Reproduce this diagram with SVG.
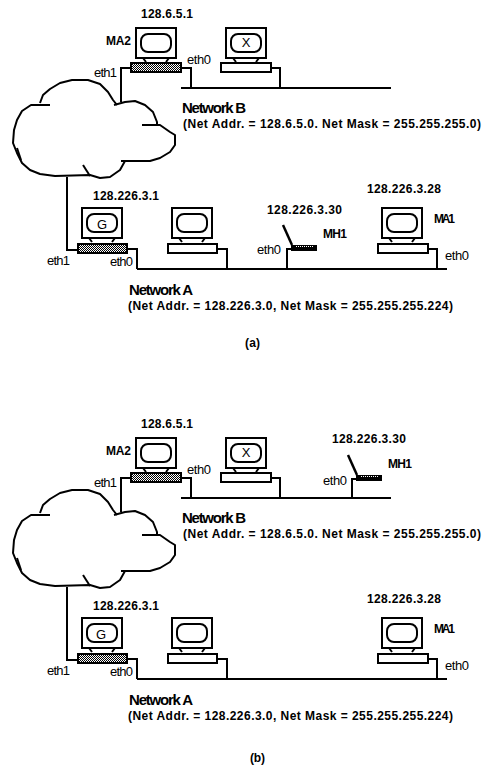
<svg xmlns="http://www.w3.org/2000/svg" width="496" height="775" viewBox="0 0 496 775">
<style>
.s{fill:none;stroke:#000;stroke-width:2;stroke-linejoin:round}
.c{fill:none;stroke:#000;stroke-width:2;shape-rendering:crispEdges}
.b{fill:#fff;stroke:#000;stroke-width:2}
.h{fill:url(#hatch);stroke:#000;stroke-width:2}
text{font-family:"Liberation Sans",Arial,sans-serif;fill:#000}
.l{font-size:12px;font-weight:bold}
.e{font-size:13px}
.n{font-size:15px;font-weight:bold}
.d{font-size:12px;font-weight:bold}
.g{font-size:13px}
</style>
<defs>
<pattern id="hatch" width="2" height="2" patternUnits="userSpaceOnUse">
<rect width="2" height="2" fill="#fff"/><rect width="1" height="1" fill="#000"/><rect x="1" y="1" width="1" height="1" fill="#000"/>
</pattern>
<g id="monitor">
<rect class="b" x="0" y="0" width="40" height="30"/>
<rect class="s" x="5" y="6" width="30" height="18" rx="7"/>
<path class="s" d="M7 30L10 34M33 30L30 34"/>
</g>
<g id="laptop">
<path d="M0 0L9 20" fill="none" stroke="#000" stroke-width="2.500"/>
<rect x="8" y="20" width="26" height="6" fill="#000"/>
<path d="M13 21.500H31" stroke="#fff" stroke-width="1" stroke-dasharray="1 1" fill="none" shape-rendering="crispEdges"/>
</g>
<g id="cloud-shape">
<path class="s" d="M50 105H31L22 111L17 120L14 130L13 143L17 153L22 163L30 170L40 174L55 176L90 175L100 178L110 177L120 170L125 161"/>
<path class="s" d="M17 148L21 160"/>
<path class="s" d="M40 103L43 95L50 89L60 83L72 80L88 80L100 84L108 92L113 100L117 105"/>
<path class="s" d="M114 105L125 102L135 101L145 105L153 112L157 122L157 125"/>
<path class="s" d="M142 125H160L170 132L175 135L175 145L170 152L160 158L150 161H121"/>
<path class="s" d="M90 176L83 165"/>
</g>
<path id="wires" class="c" d="M121 102V68H131M181 68H191V88M271 68H280V88M181 88H391M67 177V250H78M127 249H137V269M217 249H227V269M137 269H447M428 249H437V269"/>
</defs>
<rect width="496" height="775" fill="#fff"/>

<g id="connectors-a">
<use href="#wires"/>
<path class="c" d="M287 269V249H291"/>
</g>
<g id="cloud-a"><use href="#cloud-shape"/></g>
<g id="ma2-a">
<use href="#monitor" x="136" y="28"/>
<rect class="h" x="131" y="63" width="50" height="9"/>
<text class="l" x="141" y="18" textLength="52">128.6.5.1</text>
<text class="l" x="106" y="45" textLength="25">MA2</text>
<text class="e" x="187" y="64" textLength="24">eth0</text>
<text class="e" x="94" y="77" textLength="23">eth1</text>
</g>
<g id="x-a">
<use href="#monitor" x="226" y="28"/>
<rect class="b" x="221" y="63" width="50" height="9"/>
<text class="g" x="246" y="47" text-anchor="middle">X</text>
</g>
<g id="netb-a">
<text class="n" x="182" y="113" textLength="64">Network B</text>
<text class="d" x="183" y="128" textLength="298">(Net Addr. = 128.6.5.0. Net Mask = 255.255.255.0)</text>
</g>
<g id="g-a">
<use href="#monitor" x="82" y="208"/>
<rect class="h" x="78" y="244" width="49" height="9"/>
<text class="g" x="102" y="229" text-anchor="middle">G</text>
<text class="l" x="93" y="200" textLength="66">128.226.3.1</text>
<text class="e" x="47" y="265" textLength="23">eth1</text>
<text class="e" x="110" y="266" textLength="23">eth0</text>
</g>
<g id="host-a">
<use href="#monitor" x="172" y="208"/>
<rect class="b" x="168" y="244" width="49" height="9"/>
</g>
<g id="mh1-a">
<use href="#laptop" x="283" y="225"/>
<text class="l" x="267" y="214" textLength="75">128.226.3.30</text>
<text class="l" x="323" y="238" textLength="24">MH1</text>
<text class="e" x="257" y="254" textLength="24">eth0</text>
</g>
<g id="ma1-a">
<use href="#monitor" x="382" y="208"/>
<rect class="b" x="378" y="244" width="50" height="9"/>
<text class="l" x="367" y="193" textLength="74">128.226.3.28</text>
<text class="l" x="434" y="223" textLength="21">MA1</text>
<text class="e" x="445" y="260" textLength="24">eth0</text>
</g>
<g id="neta-a">
<text class="n" x="129" y="295" textLength="64">Network A</text>
<text class="d" x="128" y="310" textLength="325">(Net Addr. = 128.226.3.0, Net Mask = 255.255.255.224)</text>
</g>
<text class="d" x="245" y="347" textLength="15">(a)</text>

<g id="connectors-b">
<use href="#wires" y="410"/>
<path class="c" d="M352 498V479H356"/>
</g>
<g id="cloud-b"><use href="#cloud-shape" y="410"/></g>
<g id="ma2-b">
<use href="#monitor" x="136" y="438"/>
<rect class="h" x="131" y="473" width="50" height="9"/>
<text class="l" x="141" y="428" textLength="52">128.6.5.1</text>
<text class="l" x="106" y="455" textLength="25">MA2</text>
<text class="e" x="187" y="474" textLength="24">eth0</text>
<text class="e" x="94" y="487" textLength="23">eth1</text>
</g>
<g id="x-b">
<use href="#monitor" x="226" y="438"/>
<rect class="b" x="221" y="473" width="50" height="9"/>
<text class="g" x="246" y="457" text-anchor="middle">X</text>
</g>
<g id="mh1-b">
<use href="#laptop" x="348" y="455"/>
<text class="l" x="332" y="443" textLength="74">128.226.3.30</text>
<text class="l" x="388" y="468" textLength="24">MH1</text>
<text class="e" x="323" y="485" textLength="24">eth0</text>
</g>
<g id="netb-b">
<text class="n" x="182" y="523" textLength="64">Network B</text>
<text class="d" x="183" y="538" textLength="298">(Net Addr. = 128.6.5.0. Net Mask = 255.255.255.0)</text>
</g>
<g id="g-b">
<use href="#monitor" x="82" y="618"/>
<rect class="h" x="78" y="654" width="49" height="9"/>
<text class="g" x="101" y="639" text-anchor="middle">G</text>
<text class="l" x="93" y="610" textLength="66">128.226.3.1</text>
<text class="e" x="47" y="675" textLength="23">eth1</text>
<text class="e" x="110" y="676" textLength="23">eth0</text>
</g>
<g id="host-b">
<use href="#monitor" x="172" y="618"/>
<rect class="b" x="168" y="654" width="49" height="9"/>
</g>
<g id="ma1-b">
<use href="#monitor" x="382" y="618"/>
<rect class="b" x="378" y="654" width="50" height="9"/>
<text class="l" x="367" y="603" textLength="74">128.226.3.28</text>
<text class="l" x="434" y="633" textLength="21">MA1</text>
<text class="e" x="445" y="670" textLength="24">eth0</text>
</g>
<g id="neta-b">
<text class="n" x="129" y="705" textLength="64">Network A</text>
<text class="d" x="128" y="720" textLength="325">(Net Addr. = 128.226.3.0, Net Mask = 255.255.255.224)</text>
</g>
<text class="d" x="250" y="762" textLength="15">(b)</text>
</svg>
